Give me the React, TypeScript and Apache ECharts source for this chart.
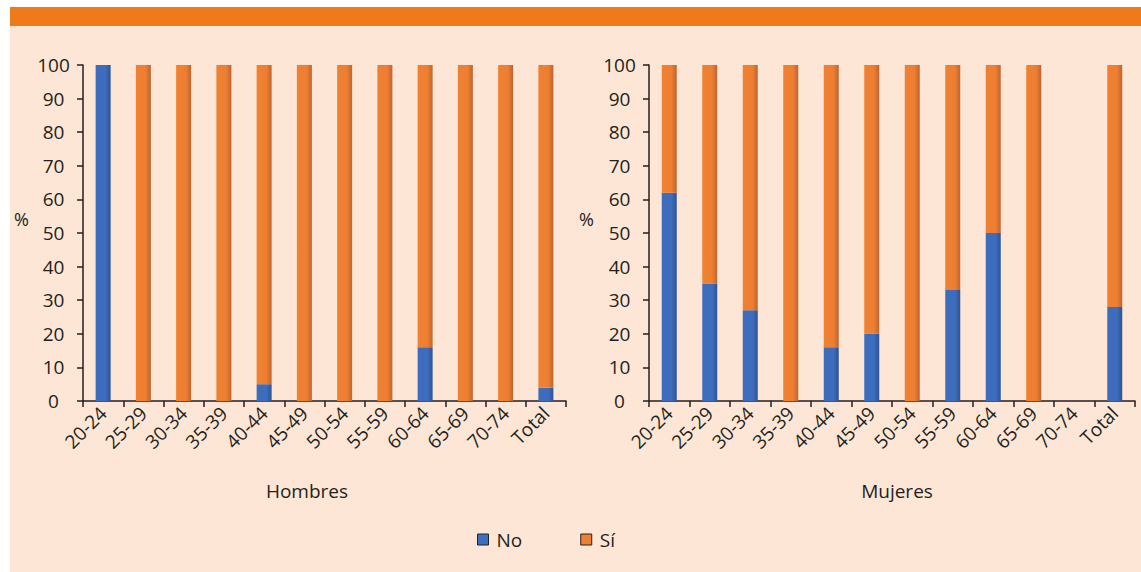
import React, { useEffect, useRef } from "react";
import * as echarts from "echarts";

const categories = ["20-24", "25-29", "30-34", "35-39", "40-44", "45-49", "50-54", "55-59", "60-64", "65-69", "70-74", "Total"];
const hombresNo = [100, 0, 0, 0, 5, 0, 0, 0, 16, 0, 0, 4];
const hombresSi = [0, 100, 100, 100, 95, 100, 100, 100, 84, 100, 100, 96];
const mujeresNo = [62, 35, 27, 0, 16, 20, 0, 33, 50, 0, null, 28];
const mujeresSi = [38, 65, 73, 100, 84, 80, 100, 67, 50, 100, null, 72];
const panelTitles = ["Hombres", "Mujeres"];
const seriesNames = ["No", "Sí"];

const FONT = "'Open Sans', 'DejaVu Sans', sans-serif";
const INK = "#231F20";
const BLUE = "#3F6EBF";
const ORANGE = "#EF7F31";

const blueGrad = new echarts.graphic.LinearGradient(0, 0, 1, 0, [
  { offset: 0, color: "#3D6CBD" },
  { offset: 0.65, color: "#3E6DBE" },
  { offset: 1, color: "#2D5393" },
]);
const orangeGrad = new echarts.graphic.LinearGradient(0, 0, 1, 0, [
  { offset: 0, color: "#F08131" },
  { offset: 0.65, color: "#EE7E31" },
  { offset: 1, color: "#BE6531" },
]);

export default function App() {
  const ref = useRef<HTMLDivElement>(null);
  useEffect(() => {
    if (!ref.current) return;
    const chart = echarts.init(ref.current, null, { renderer: "svg" });
    const grids = [
      { left: 83, top: 65, width: 483, height: 336 },
      { left: 649, top: 65, width: 486, height: 336 },
    ];
    const xAxis = grids.map((_, i) => ({
      type: "category",
      gridIndex: i,
      data: categories,
      boundaryGap: true,
      axisLine: { show: true, lineStyle: { color: INK, width: 1.5 } },
      axisTick: { show: true, length: 6, lineStyle: { color: INK, width: 1.5 } },
      axisLabel: { rotate: 45, margin: 9, fontSize: 19, color: INK, fontFamily: FONT, interval: 0 },
      splitLine: { show: false },
    }));
    const yAxis = grids.map((_, i) => ({
      type: "value",
      gridIndex: i,
      min: 0,
      max: 100,
      interval: 10,
      axisLine: { show: true, lineStyle: { color: INK, width: 1.5 } },
      axisTick: { show: true, length: 6, lineStyle: { color: INK, width: 1.5 } },
      axisLabel: { margin: 29.5, align: "center", fontSize: 19, color: INK, fontFamily: FONT },
      splitLine: { show: false },
    }));
    const mk = (name: string, data: (number | null)[], idx: number, stack: string, color: any) => ({
      type: "bar",
      name,
      data,
      xAxisIndex: idx,
      yAxisIndex: idx,
      stack,
      barWidth: 15,
      itemStyle: { color },
      emphasis: { disabled: true },
    });
    const option: any = {
      animation: false,
      backgroundColor: "#FFFFFF",
      grid: grids,
      xAxis,
      yAxis,
      legend: {
        left: 472,
        top: 525,
        itemWidth: 11,
        itemHeight: 11,
        itemGap: 58,
        icon: "rect",
        textStyle: { fontSize: 19, color: INK, fontFamily: FONT, padding: [0, 0, 0, 3] },
        data: [
          { name: seriesNames[0], itemStyle: { color: BLUE, borderColor: "#222", borderWidth: 1 } },
          { name: seriesNames[1], itemStyle: { color: ORANGE, borderColor: "#222", borderWidth: 1 } },
        ],
      },
      graphic: [
        { type: "rect", z: -10, silent: true, shape: { x: 10, y: 7, width: 1131, height: 19 }, style: { fill: "#EE7A1A" } },
        { type: "rect", z: -10, silent: true, shape: { x: 10, y: 26, width: 1131, height: 546 }, style: { fill: "#FDE6D5" } },
        { type: "text", x: 14, y: 210, style: { text: "%", fontSize: 18, fill: INK, fontFamily: FONT } },
        { type: "text", x: 579, y: 210, style: { text: "%", fontSize: 18, fill: INK, fontFamily: FONT } },
        { type: "text", x: 307, y: 481, style: { text: panelTitles[0], fontSize: 19, fill: INK, fontFamily: FONT, align: "center" } },
        { type: "text", x: 897, y: 481, style: { text: panelTitles[1], fontSize: 19, fill: INK, fontFamily: FONT, align: "center" } },
      ],
      series: [
        mk(seriesNames[0], hombresNo, 0, "h", blueGrad),
        mk(seriesNames[1], hombresSi, 0, "h", orangeGrad),
        mk(seriesNames[0], mujeresNo, 1, "m", blueGrad),
        mk(seriesNames[1], mujeresSi, 1, "m", orangeGrad),
      ],
    };
    chart.setOption(option);
    return () => chart.dispose();
  }, []);
  return (
    <div
      ref={ref}
      style={{ position: "absolute", left: 0, top: 0, width: 1141, height: 572 }}
    />
  );
}
